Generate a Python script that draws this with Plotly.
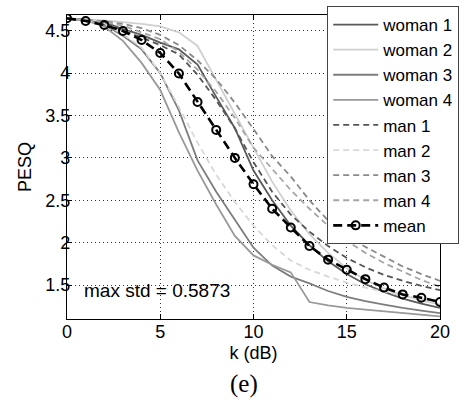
import plotly.graph_objects as go

K = list(range(21))

woman1 = [4.64, 4.63, 4.60, 4.52, 4.45, 4.36, 4.28, 4.10, 3.72, 3.35, 2.85, 2.50, 2.20, 1.97, 1.78, 1.63, 1.51, 1.42, 1.34, 1.28, 1.23]
woman2 = [4.64, 4.63, 4.62, 4.60, 4.58, 4.55, 4.48, 4.32, 3.92, 3.52, 3.12, 2.72, 2.38, 2.10, 1.88, 1.70, 1.56, 1.46, 1.38, 1.32, 1.27]
woman3 = [4.64, 4.62, 4.57, 4.44, 4.28, 4.00, 3.56, 2.97, 2.60, 2.27, 1.94, 1.73, 1.60, 1.52, 1.43, 1.36, 1.31, 1.27, 1.23, 1.20, 1.17]
woman4 = [4.64, 4.62, 4.55, 4.38, 4.12, 3.80, 3.30, 2.85, 2.45, 2.08, 1.85, 1.74, 1.65, 1.30, 1.26, 1.23, 1.21, 1.19, 1.17, 1.15, 1.13]
man1 = [4.64, 4.63, 4.60, 4.50, 4.42, 4.33, 4.22, 3.98, 3.68, 3.35, 2.95, 2.60, 2.33, 2.13, 1.96, 1.82, 1.71, 1.62, 1.55, 1.49, 1.44]
man2 = [4.64, 4.62, 4.58, 4.46, 4.30, 4.00, 3.60, 3.18, 2.80, 2.48, 2.20, 1.97, 1.79, 1.68, 1.60, 1.53, 1.47, 1.42, 1.38, 1.34, 1.30]
man3 = [4.64, 4.63, 4.61, 4.58, 4.53, 4.45, 4.33, 4.15, 3.93, 3.65, 3.34, 3.02, 2.78, 2.50, 2.26, 2.08, 1.95, 1.83, 1.72, 1.63, 1.55]
man4 = [4.64, 4.63, 4.60, 4.56, 4.48, 4.40, 4.25, 4.04, 3.78, 3.47, 3.12, 2.87, 2.62, 2.40, 2.20, 2.02, 1.88, 1.76, 1.66, 1.56, 1.48]
mean = [4.646, 4.614, 4.567, 4.496, 4.39, 4.237, 3.995, 3.66, 3.33, 3.00, 2.69, 2.40, 2.18, 1.96, 1.80, 1.68, 1.57, 1.47, 1.39, 1.35, 1.30]

x_ticks = [0, 5, 10, 15, 20]
y_ticks = [1.5, 2, 2.5, 3, 3.5, 4, 4.5]
std_text = "max std = 0.5873"

series = [
    ("woman 1", woman1, "#5a5a5a", "solid"),
    ("woman 2", woman2, "#d0d0d0", "solid"),
    ("woman 3", woman3, "#7d7d7d", "solid"),
    ("woman 4", woman4, "#999999", "solid"),
    ("man 1", man1, "#555555", "6px,4px"),
    ("man 2", man2, "#d8d8d8", "6px,4px"),
    ("man 3", man3, "#8a8a8a", "6px,4px"),
    ("man 4", man4, "#a5a5a5", "6px,4px"),
]

FONT = "Liberation Sans, Arial, sans-serif"
FS = 18

fig = go.Figure()
for name, vals, col, dash in series:
    fig.add_trace(go.Scatter(x=K, y=vals, mode="lines", name=name,
                             line=dict(color=col, width=1.8, dash=dash)))
fig.add_trace(go.Scatter(x=K, y=mean, mode="lines+markers", name="mean",
                         line=dict(color="black", width=2.6, dash="9px,5px"),
                         marker=dict(symbol="circle-open", size=8, color="black",
                                     line=dict(width=2, color="black"))))

# plot area: 313 px paper-height region (t=6, b=82); axis occupies bottom 304 px
dom_top = 304 / 313

fig.add_annotation(x=0.8, y=1.44, xref="x", yref="y", text=std_text, showarrow=False,
                   xanchor="left", yanchor="middle", font=dict(family=FONT, size=19, color="black"))
fig.add_annotation(x=(246 - 67) / 377, y=-81 / 313, xref="paper", yref="paper", text="(e)", showarrow=False,
                   xanchor="center", yanchor="bottom",
                   font=dict(family="Liberation Serif, Times New Roman, serif", size=25, color="black"))

axis_common = dict(showline=True, linecolor="black", linewidth=1.2, mirror="ticks",
                   ticks="inside", ticklen=5, tickcolor="black", automargin=False,
                   showgrid=True, gridcolor="rgba(0,0,0,0.8)", griddash="1px,3px", gridwidth=1,
                   zeroline=False, tickfont=dict(family=FONT, size=FS, color="black"))

fig.update_xaxes(range=[0, 20], tickvals=x_ticks, ticktext=[str(v) for v in x_ticks],
                 ticklabelstandoff=-4,
                 title=dict(text="k (dB)", font=dict(family=FONT, size=FS, color="black"), standoff=5),
                 **axis_common)
fig.update_yaxes(range=[1.1, 4.685], tickvals=y_ticks, ticktext=[("%g" % v) for v in y_ticks],
                 domain=[0, dom_top], ticklabelstandoff=-8,
                 title=dict(text="PESQ", font=dict(family=FONT, size=FS, color="black"), standoff=8),
                 **axis_common)

fig.update_layout(
    template="none",
    width=465, height=401,
    margin=dict(l=67, r=21, t=6, b=82),
    paper_bgcolor="white", plot_bgcolor="white",
    showlegend=True,
    legend=dict(x=(330 - 67) / 377, y=1.0, xanchor="left", yanchor="top",
                bgcolor="white", bordercolor="#444444", borderwidth=1,
                font=dict(family=FONT, size=17, color="black"),
                itemwidth=45, tracegroupgap=0),
)

fig.write_html("out.html", config={"displayModeBar": False},
               post_script="document.body.style.margin='0';document.body.style.padding='0';")
